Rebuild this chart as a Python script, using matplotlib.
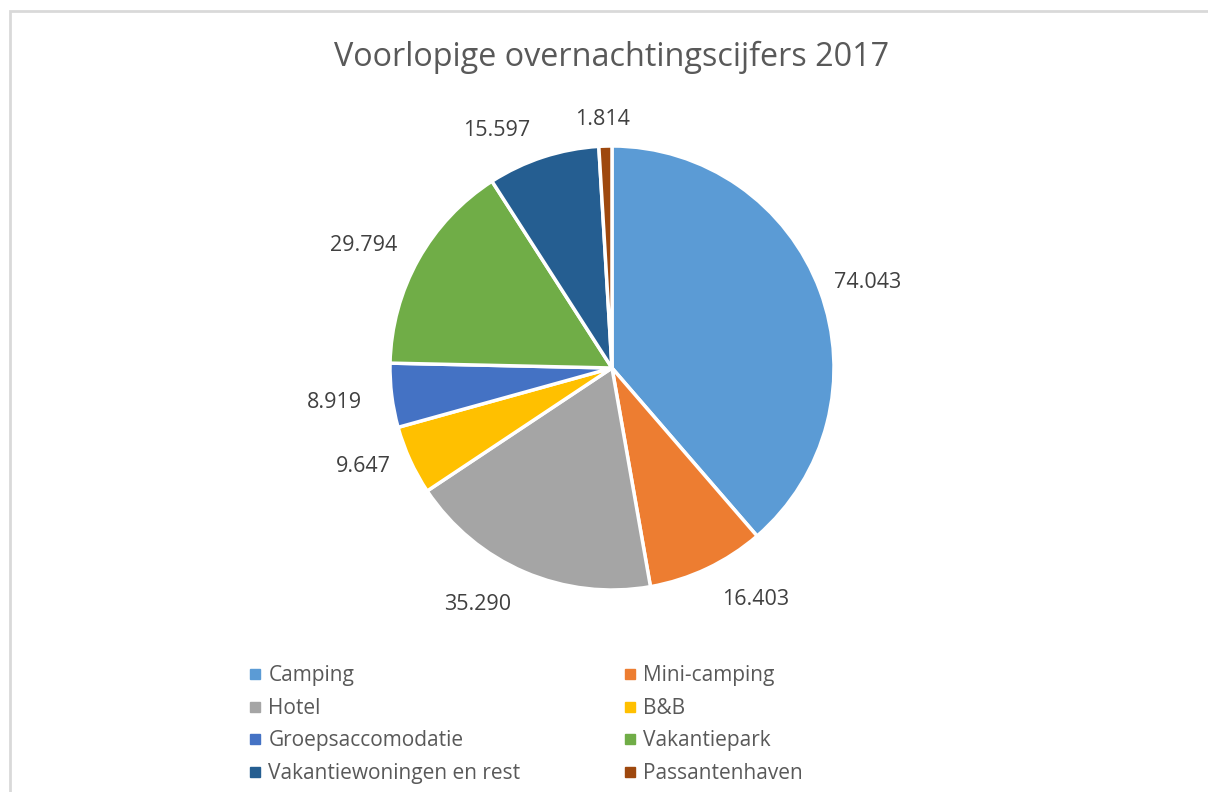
import matplotlib.pyplot as plt
import numpy as np
from matplotlib.lines import Line2D
from matplotlib.patches import Rectangle

plt.rcParams['font.family'] = ['Open Sans', 'DejaVu Sans']

# data
categories = ['Camping', 'Mini-camping', 'Hotel', 'B&B', 'Groepsaccomodatie',
              'Vakantiepark', 'Vakantiewoningen en rest', 'Passantenhaven']
values = [74043, 16403, 35290, 9647, 8919, 29794, 15597, 1814]
colors = ['#5B9BD5', '#ED7D31', '#A5A5A5', '#FFC000', '#4472C4',
          '#70AD47', '#255E91', '#9E480E']
# label placement: distance (in radii) and angle shift from wedge middle
label_dist = [1.215, 1.228, 1.226, 1.207, 1.258, 1.247, 1.19, 1.118]
label_shift = [-2.0, 6.3, -6.3, -2.9, 0.0, 2.9, 7.7, 0.4]


def fmt(v):
    return f'{v:,}'.replace(',', '.')


def main():
    W, H = 1208, 792
    fig = plt.figure(figsize=(W / 100, H / 100), dpi=100)

    # chart border (partly cut off on right/bottom)
    fig.patches.append(Rectangle((10 / W, -0.1), 1.2, 1 - 11 / H + 0.1,
                                 transform=fig.transFigure, fill=False,
                                 edgecolor='#d9d9d9', linewidth=2))

    cx, cy, r = 612, 368, 222
    ax = fig.add_axes([(cx - r) / W, (H - cy - r) / H, 2 * r / W, 2 * r / H])
    wedges, _ = ax.pie(values, colors=colors, startangle=90, counterclock=False,
                       wedgeprops=dict(edgecolor='white', linewidth=2.5))
    ax.set_xlim(-1, 1)
    ax.set_ylim(-1, 1)
    ax.set_aspect('equal')

    for w, v, d, s in zip(wedges, values, label_dist, label_shift):
        ang = np.deg2rad((w.theta1 + w.theta2) / 2 + s)
        ax.text(d * np.cos(ang), d * np.sin(ang), fmt(v), ha='center', va='center',
                fontsize=15.5, color='#404040')

    fig.text(0.5066, 1 - 57 / H, 'Voorlopige overnachtingscijfers 2017',
             ha='center', va='center', fontsize=23.3, color='#595959')

    handles = [Line2D([], [], marker='s', linestyle='none', markersize=7,
                      markerfacecolor=c, markeredgecolor=c) for c in colors]
    order = [0, 2, 4, 6, 1, 3, 5, 7]
    fig.legend([handles[i] for i in order], [categories[i] for i in order],
               ncol=2, loc='upper left', bbox_to_anchor=(237 / W, 1 - 655 / H),
               frameon=False, fontsize=15, labelcolor='#595959',
               handlelength=0.7, handletextpad=0.3, columnspacing=4.9,
               labelspacing=0.55, borderpad=0)

    fig.savefig('out.png', dpi=100)


if __name__ == '__main__':
    main()
